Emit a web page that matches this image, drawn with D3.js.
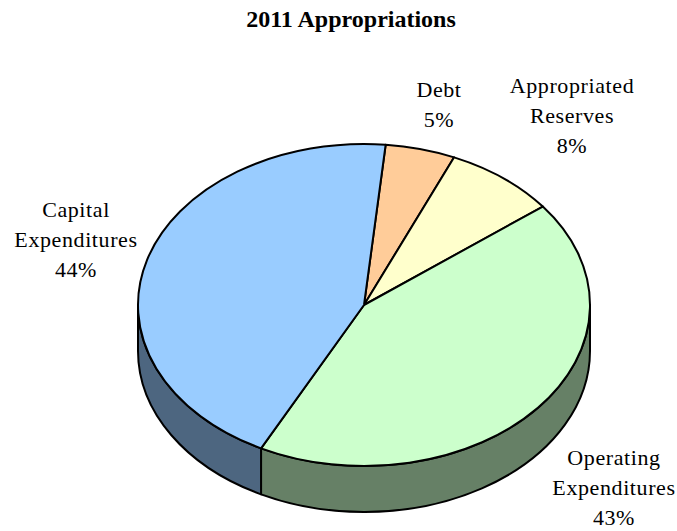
<!DOCTYPE html>
<html>
<head>
<meta charset="utf-8">
<script src="https://cdn.jsdelivr.net/npm/d3@7/dist/d3.min.js"></script>
<style>
  html, body { margin: 0; padding: 0; background: #fff; }
  svg text { font-family: "Liberation Serif", "Times New Roman", serif; fill: #000; }
</style>
</head>
<body>
<svg id="chart" width="677" height="531"></svg>
<script>
// Budget categories, in drawing order (clockwise from the top)
const categories = ["Debt", "Appropriated Reserves", "Operating Expenditures", "Capital Expenditures"];
const labelLines = [["Debt"], ["Appropriated", "Reserves"], ["Operating", "Expenditures"], ["Capital", "Expenditures"]];
const shares = [5, 8, 43, 44];
const topColors = ["#FFCC99", "#FFFFCC", "#CCFFCC", "#99CCFF"];
const sideColors = ["#806650", "#808066", "#668066", "#4D6680"];

const W = 677, H = 531;
const geo = { cx: 364, cy: 305, rx: 226, ry: 161, depth: 46, rotation: 5.5 };
// label blocks: centre x and baseline of the first line
const labelAt = [[439, 97], [572, 93], [614, 465], [76, 217]];
const lineStep = 30;

const svg = d3.select("#chart");

svg.append("text")
  .attr("x", 351).attr("y", 27)
  .attr("text-anchor", "middle")
  .style("font-size", "24px").style("font-weight", "bold")
  .text("2011 Appropriations");

const start = geo.rotation * Math.PI / 180;
const pie = d3.pie().sort(null).value(d => d).startAngle(start).endAngle(start + 2 * Math.PI);
const arcs = pie(shares);

const px = t => geo.cx + geo.rx * Math.sin(t);
const py = (t, dz = 0) => geo.cy - geo.ry * Math.cos(t) + dz;

// side walls: only the front half (90° .. 270°) is visible
const g = svg.append("g");
const lo = Math.PI / 2, hi = 3 * Math.PI / 2;
arcs.forEach((a, i) => {
  // test the slice span and its copy shifted by -2π
  [0, -2 * Math.PI].forEach(shift => {
    const s = Math.max(a.startAngle + shift, lo);
    const e = Math.min(a.endAngle + shift, hi);
    if (e <= s) return;
    const large = (e - s) > Math.PI ? 1 : 0;
    const d = `M${px(s)},${py(s)}` +
      `A${geo.rx},${geo.ry} 0 ${large} 1 ${px(e)},${py(e)}` +
      `L${px(e)},${py(e, geo.depth)}` +
      `A${geo.rx},${geo.ry} 0 ${large} 0 ${px(s)},${py(s, geo.depth)}Z`;
    g.append("path").attr("d", d)
      .attr("fill", sideColors[i])
      .attr("stroke", "#000").attr("stroke-width", 2).attr("stroke-linejoin", "round");
  });
});

// top face slices
arcs.forEach((a, i) => {
  const s = a.startAngle, e = a.endAngle;
  const large = (e - s) > Math.PI ? 1 : 0;
  const d = `M${geo.cx},${geo.cy}L${px(s)},${py(s)}` +
    `A${geo.rx},${geo.ry} 0 ${large} 1 ${px(e)},${py(e)}Z`;
  g.append("path").attr("d", d)
    .attr("fill", topColors[i])
    .attr("stroke", "#000").attr("stroke-width", 2).attr("stroke-linejoin", "round");
});

// category labels with percentages
const total = d3.sum(shares);
const fmt = d3.format(".0%");
labelLines.forEach((lines, i) => {
  const t = svg.append("text")
    .attr("text-anchor", "middle")
    .style("font-size", "22px")
    .style("letter-spacing", "0.6px");
  lines.concat([fmt(shares[i] / total)]).forEach((ln, k) => {
    t.append("tspan").attr("x", labelAt[i][0]).attr("y", labelAt[i][1] + k * lineStep).text(ln);
  });
});
</script>
</body>
</html>
